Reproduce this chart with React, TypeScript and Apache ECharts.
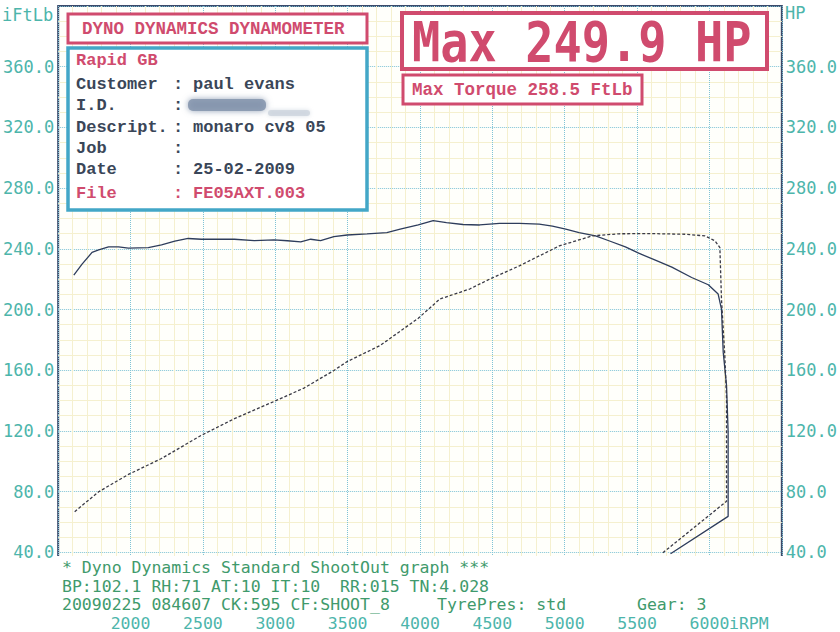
import React, { useEffect, useRef } from "react";
import * as echarts from "echarts";

// ---- data read from the dyno sheet ----
const torqueRpm = [1608, 1665, 1734, 1780, 1848, 1917, 1985, 2123, 2214, 2306, 2398, 2489, 2718, 2855, 2992, 3084, 3176, 3245, 3313, 3405, 3497, 3634, 3771, 3863, 3988, 4091, 4183, 4297, 4412, 4549, 4687, 4824, 4915, 5007, 5099, 5213, 5305, 5419, 5511, 5626, 5740, 5877, 5992, 6060, 6083, 6095, 6118, 6129, 6129, 5731];
const torqueFtLb = [222.7, 229.9, 237.6, 239.3, 241.3, 241.3, 240.4, 240.8, 242.6, 245.0, 246.8, 246.3, 246.3, 245.4, 245.9, 245.3, 244.6, 246.3, 245.4, 248.0, 249.1, 249.8, 250.7, 252.9, 255.7, 258.5, 257.3, 256.0, 255.7, 256.8, 256.8, 256.2, 255.0, 252.9, 250.7, 248.5, 245.3, 241.3, 237.1, 232.5, 227.9, 221.1, 216.3, 210.2, 200.3, 171.9, 149.9, 119.3, 63.7, 39.0];

const powerRpm = [1614, 1780, 1985, 2214, 2489, 2718, 2992, 3198, 3405, 3497, 3725, 3988, 4137, 4343, 4481, 4687, 4962, 5190, 5374, 5602, 5831, 5969, 6037, 6072, 6083, 6106, 6118, 6118, 5669];
const powerHp = [66.8, 79.9, 91.3, 101.8, 117.1, 128.1, 139.4, 148.2, 159.8, 165.7, 176.3, 194.2, 206.9, 213.5, 220.0, 228.8, 241.9, 248.5, 249.9, 250.0, 249.6, 248.5, 245.3, 240.8, 206.9, 169.7, 141.2, 73.6, 39.0];

const rpmLabelMin = 2000;
const rpmLabelMax = 6000;
const valueLabelMin = 40;
const valueLabelMax = 360;

const infoRows = [
  { label: "Customer", value: "paul evans" },
  { label: "I.D.", value: "" },
  { label: "Descript.", value: "monaro cv8 05" },
  { label: "Job", value: "" },
  { label: "Date", value: "25-02-2009" },
  { label: "File", value: "FE05AXT.003" },
];

const PINK = "#d04b6e";
const BLUE = "#43a7c7";
const INK = "#3a4658";
const TEAL = "#4db5ab";
const GREEN = "#3f9a6c";
const MONO = "'DejaVu Sans Mono', monospace";
const COUR = "'Liberation Mono', monospace";

function zip(a: number[], b: number[]) {
  return a.map((x, i) => [x, b[i]]);
}

export default function App() {
  const ref = useRef<HTMLDivElement>(null);
  useEffect(() => {
    if (!ref.current) return;
    const chart = echarts.init(ref.current, null, { renderer: "svg" });

    const rowY = [84, 105, 127, 148, 169, 193];
    const infoTexts: any[] = [];
    infoRows.forEach((r, i) => {
      const color = r.label === "File" ? PINK : INK;
      infoTexts.push({
        type: "text", z: 102, x: 76, y: rowY[i],
        style: { text: r.label, font: `bold 17px ${COUR}`, fill: color, verticalAlign: "middle" },
      });
      infoTexts.push({
        type: "text", z: 102, x: 173, y: rowY[i],
        style: { text: ":", font: `bold 17px ${COUR}`, fill: color, verticalAlign: "middle" },
      });
      if (r.value) {
        infoTexts.push({
          type: "text", z: 102, x: 193, y: rowY[i],
          style: { text: r.value, font: `bold 17px ${COUR}`, fill: color, verticalAlign: "middle" },
        });
      }
    });

    const option: any = {
      animation: false,
      backgroundColor: "#ffffff",
      grid: {
        left: 56, right: 56, top: 6, bottom: 17,
        show: true, borderColor: "#3b4a6b", borderWidth: 2, backgroundColor: "#fffffb",
      },
      xAxis: {
        type: "value", min: 1500, max: 6500, interval: 500,
        axisLine: { show: false }, axisTick: { show: false },
        axisLabel: {
          margin: 2, color: TEAL, fontFamily: MONO, fontSize: 16.5,
          formatter: (v: number) => (v >= rpmLabelMin && v <= rpmLabelMax ? String(v) : ""),
        },
        splitLine: { show: true, lineStyle: { color: "#7fc3d6", type: "dotted", width: 1 } },
        minorTick: { show: false, splitNumber: 5 },
        minorSplitLine: { show: true, lineStyle: { color: "#f5f0cf", width: 1 } },
      },
      yAxis: [
        {
          type: "value", min: 0, max: 400, interval: 40, position: "left",
          axisLine: { show: false }, axisTick: { show: false },
          axisLabel: {
            margin: 4, color: TEAL, fontFamily: MONO, fontSize: 17,
            formatter: (v: number) => (v >= valueLabelMin && v <= valueLabelMax ? v.toFixed(1) : ""),
          },
          splitLine: { show: true, lineStyle: { color: "#7fc3d6", type: "dotted", width: 1 } },
          minorTick: { show: false, splitNumber: 4 },
          minorSplitLine: { show: true, lineStyle: { color: "#f5f0cf", width: 1 } },
        },
        {
          type: "value", min: 0, max: 400, interval: 40, position: "right",
          axisLine: { show: false }, axisTick: { show: false },
          axisLabel: {
            margin: 4, color: TEAL, fontFamily: MONO, fontSize: 17,
            formatter: (v: number) => (v >= valueLabelMin && v <= valueLabelMax ? v.toFixed(1) : ""),
          },
          splitLine: { show: false },
        },
      ],
      series: [
        {
          name: "Torque", type: "line", yAxisIndex: 0, data: zip(torqueRpm, torqueFtLb),
          showSymbol: false, symbol: "none",
          lineStyle: { color: "#2e3d5c", width: 1.3, type: "solid" },
          z: 5,
        },
        {
          name: "Power", type: "line", yAxisIndex: 1, data: zip(powerRpm, powerHp),
          showSymbol: false, symbol: "none",
          lineStyle: { color: "#3a3a46", width: 1.3, type: [3, 2] },
          z: 5,
        },
      ],
      graphic: [
        // axis units
        { type: "text", z: 102, x: 2, y: 15, style: { text: "iFtLb", font: `17px ${MONO}`, fill: TEAL, verticalAlign: "middle" } },
        { type: "text", z: 102, x: 785, y: 13, style: { text: "HP", font: `17px ${MONO}`, fill: TEAL, verticalAlign: "middle" } },
        { type: "text", z: 102, x: 729, y: 623, style: { text: "iRPM", font: `16.5px ${MONO}`, fill: TEAL, verticalAlign: "middle" } },
        // title box
        { type: "rect", z: 100, shape: { x: 68, y: 14, width: 299, height: 29 }, style: { fill: "#ffffff", stroke: PINK, lineWidth: 3 } },
        { type: "text", z: 102, x: 82, y: 29, style: { text: "DYNO DYNAMICS DYNAMOMETER", font: `bold 17.5px ${COUR}`, fill: PINK, verticalAlign: "middle" } },
        // info box
        { type: "rect", z: 100, shape: { x: 68, y: 48, width: 299, height: 162 }, style: { fill: "#ffffff", stroke: BLUE, lineWidth: 3.5 } },
        { type: "text", z: 102, x: 76, y: 60, style: { text: "Rapid GB", font: `bold 17px ${COUR}`, fill: PINK, verticalAlign: "middle" } },
        { type: "rect", z: 101, shape: { x: 188, y: 99, width: 78, height: 12, r: 5 }, style: { fill: "#8494ad", shadowBlur: 6, shadowColor: "#8494ad", opacity: 0.85 } },
        { type: "rect", z: 101, shape: { x: 268, y: 110, width: 42, height: 6, r: 3 }, style: { fill: "#c9d1dc", shadowBlur: 4, shadowColor: "#c9d1dc", opacity: 0.7 } },
        ...infoTexts,
        // max HP box
        { type: "rect", z: 100, shape: { x: 402, y: 13, width: 365, height: 56 }, style: { fill: "#ffffff", stroke: PINK, lineWidth: 4 } },
        { type: "text", z: 102, x: 412, y: 42, scaleY: 1.18, style: { text: "Max 249.9 HP", font: `bold 47px ${MONO}`, fill: PINK, verticalAlign: "middle" } },
        { type: "rect", z: 100, shape: { x: 403, y: 75, width: 239, height: 29 }, style: { fill: "#ffffff", stroke: PINK, lineWidth: 3 } },
        { type: "text", z: 102, x: 412, y: 90, style: { text: "Max Torque 258.5 FtLb", font: `bold 17.5px ${COUR}`, fill: PINK, verticalAlign: "middle" } },
        // bottom info panel
        { type: "rect", z: 100, shape: { x: 57, y: 556, width: 726, height: 58 }, style: { fill: "#ffffff" } },
        { type: "text", z: 102, x: 62, y: 567, style: { text: "* Dyno Dynamics Standard ShootOut graph ***", font: `16.5px ${MONO}`, fill: GREEN, verticalAlign: "middle" } },
        { type: "text", z: 102, x: 62, y: 586, style: { text: "BP:102.1 RH:71 AT:10 IT:10", font: `16.5px ${MONO}`, fill: GREEN, verticalAlign: "middle" } },
        { type: "text", z: 102, x: 340, y: 586, style: { text: "RR:015 TN:4.028", font: `16.5px ${MONO}`, fill: GREEN, verticalAlign: "middle" } },
        { type: "text", z: 102, x: 62, y: 604, style: { text: "20090225 084607 CK:595 CF:SHOOT_8", font: `16.5px ${MONO}`, fill: GREEN, verticalAlign: "middle" } },
        { type: "text", z: 102, x: 437, y: 604, style: { text: "TyrePres: std", font: `16.5px ${MONO}`, fill: GREEN, verticalAlign: "middle" } },
        { type: "text", z: 102, x: 637, y: 604, style: { text: "Gear: 3", font: `16.5px ${MONO}`, fill: GREEN, verticalAlign: "middle" } },
      ],
    };
    chart.setOption(option);
    return () => chart.dispose();
  }, []);
  return <div ref={ref} style={{ position: "fixed", left: 0, top: 0, width: 840, height: 632 }} />;
}
